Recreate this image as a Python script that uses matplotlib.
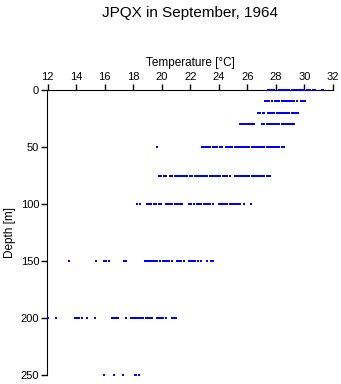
import matplotlib
matplotlib.use("Agg")
import matplotlib.pyplot as plt

plt.rcParams['font.family'] = ['Liberation Sans', 'DejaVu Sans']

depths = [0, 10, 20, 30, 50, 75, 100, 150, 200, 250]

temps = {}
temps[0] = [27.47, 27.6, 27.73, 27.87, 28.2, 28.35, 28.5, 28.65, 28.8, 28.95, 29.1, 29.25,
            29.4, 29.55, 29.7, 29.85, 30.0, 30.17, 30.3, 30.4, 30.58, 30.72, 31.2, 31.33]
temps[10] = [27.25, 27.4, 27.55, 27.7, 27.95, 28.1, 28.25, 28.4, 28.55, 28.7, 28.85, 29.0,
             29.15, 29.3, 29.45, 29.77, 29.9, 30.05]
temps[20] = [26.77, 26.92, 27.07, 27.17, 27.47, 27.6, 27.75, 27.9, 28.05, 28.2, 28.35, 28.5,
             28.65, 28.8, 28.95, 29.1, 29.25, 29.4, 29.55]
temps[30] = [25.5, 25.65, 25.8, 25.9, 26.07, 26.2, 26.33, 26.45, 27.05, 27.2, 27.35, 27.5,
             27.65, 27.8, 27.95, 28.1, 28.25, 28.4, 28.55, 28.7, 28.85, 29.0, 29.15, 29.27]
temps[50] = [19.65, 22.8, 22.95, 23.1, 23.25, 23.38, 23.6, 23.75, 23.9, 24.05, 24.2, 24.47,
             24.65, 24.8, 24.95, 25.1, 25.25, 25.4, 25.55, 25.7, 25.85, 26.0, 26.15, 26.3,
             26.45, 26.6, 26.75, 26.9, 27.05, 27.2, 27.35, 27.5, 27.65, 27.8, 27.95, 28.1,
             28.25, 28.4, 28.55]
temps[75] = [19.83, 19.98, 20.13, 20.33, 20.6, 20.75, 20.9, 21.05, 21.2, 21.35, 21.5, 21.65,
             21.8, 21.95, 22.15, 22.3, 22.45, 22.6, 22.75, 22.9, 23.05, 23.2, 23.35, 23.5,
             23.65, 23.8, 23.95, 24.1, 24.27, 24.42, 24.6, 24.77, 25.1, 25.25, 25.4, 25.55,
             25.7, 25.85, 26.0, 26.15, 26.3, 26.45, 26.6, 26.75, 26.9, 27.05, 27.2, 27.35,
             27.5, 27.62]
temps[100] = [18.3, 18.45, 18.97, 19.12, 19.28, 19.48, 19.62, 19.8, 19.98, 20.3, 20.45, 20.6,
              20.75, 20.9, 21.05, 21.2, 21.35, 21.45, 21.9, 22.05, 22.25, 22.48, 22.63, 22.78,
              22.93, 23.08, 23.23, 23.38, 23.6, 24.0, 24.15, 24.3, 24.45, 24.6, 24.75, 24.9,
              25.05, 25.2, 25.35, 25.52, 25.8, 26.27]
temps[150] = [13.48, 15.38, 15.95, 16.08, 16.3, 17.35, 17.5, 18.8, 18.95, 19.1, 19.25, 19.4,
              19.55, 19.7, 19.9, 20.1, 20.25, 20.4, 20.52, 20.7, 21.05, 21.2, 21.35, 21.55,
              21.9, 22.05, 22.2, 22.35, 22.52, 22.78, 23.2, 23.45, 23.62]
temps[200] = [12.05, 12.62, 13.9, 14.05, 14.2, 14.4, 14.78, 15.3, 16.5, 16.65, 16.8, 16.95,
              17.48, 17.82, 17.97, 18.12, 18.27, 18.42, 18.57, 18.72, 18.87, 19.02, 19.17,
              19.35, 19.65, 19.8, 19.95, 20.1, 20.3, 20.7, 20.85, 21.0]
temps[250] = [15.95, 16.68, 17.3, 18.1, 18.22, 18.38]

xticks = list(range(12, 33, 2))
yticks = [0, 50, 100, 150, 200, 250]

fig = plt.figure(figsize=(3.41, 3.84), dpi=100)
ax = fig.add_axes([47.5 / 341, 1 - 375 / 384, (333 - 47.5) / 341, (375 - 90) / 384])

# one row of dots per sampled depth
for d in depths:
    ax.plot(temps[d], [d] * len(temps[d]), 's', color='blue', ms=1.9, mew=0,
            clip_on=False, zorder=3)

ax.set_xlim(12, 32)
ax.set_ylim(250, 0)
ax.set_xticks(xticks)
ax.set_yticks(yticks)
ax.xaxis.tick_top()
ax.xaxis.set_label_position('top')
ax.spines['right'].set_visible(False)
ax.spines['bottom'].set_visible(False)
ax.tick_params(axis='both', direction='out', length=4, width=1, labelsize=8, pad=2)
ax.set_xlabel('Temperature [°C]', fontsize=8.5, labelpad=4)
ax.set_ylabel('Depth [m]', fontsize=8.5, labelpad=3)
fig.suptitle('JPQX in September, 1964', fontsize=11, y=0.985, x=190 / 341)

fig.savefig('out.png', dpi=100)
